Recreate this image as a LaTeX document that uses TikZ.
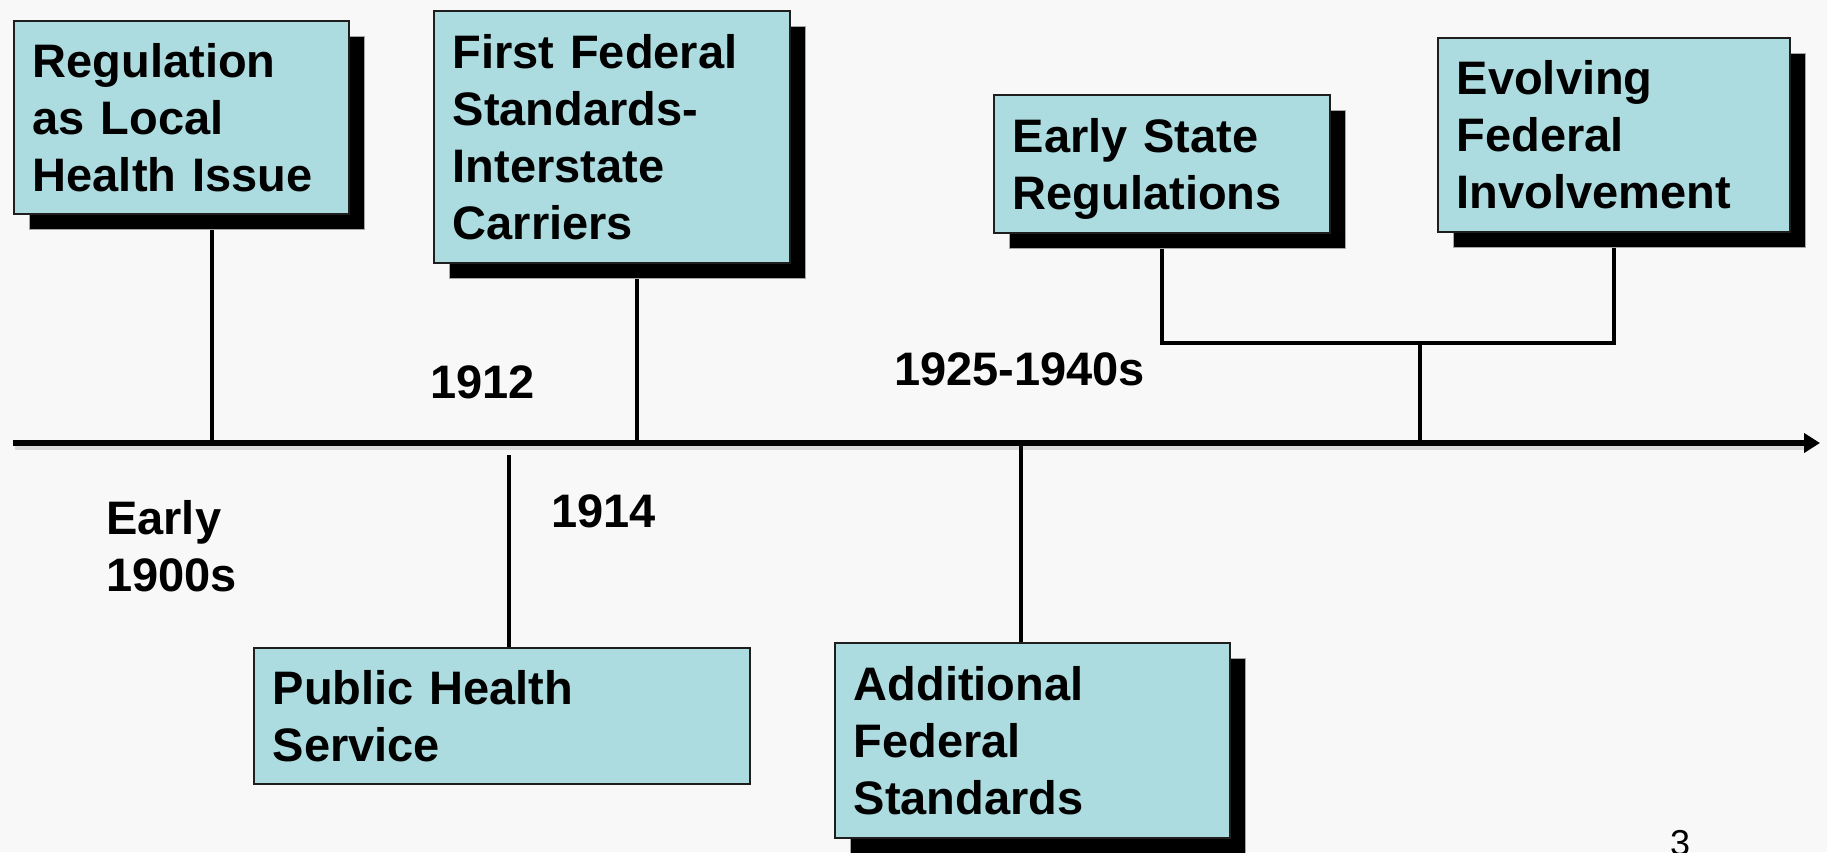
\documentclass[tikz,border=0pt]{standalone}
\usepackage{fontspec}
\setmainfont{Liberation Sans}
\usetikzlibrary{arrows.meta,shadows}
\definecolor{bgcol}{RGB}{248,248,248}
\definecolor{boxfill}{RGB}{172,220,224}
\definecolor{boxline}{RGB}{30,30,30}
\pgfdeclarelayer{back}
\pgfsetlayers{back,main}
\begin{document}
\begin{tikzpicture}[x=1pt,y=-1pt,
  bigtxt/.style={font=\fontsize{47}{57}\selectfont\bfseries},
  card/.style={draw=boxline, line width=1.5pt, fill=boxfill, anchor=north west,
    inner xsep=19pt, inner ysep=0pt, align=left, text height=34pt, bigtxt},
  lines2/.style={text depth=57pt},
  lines3/.style={text depth=114pt},
  lines4/.style={text depth=171pt},
  shade/.style={general shadow={fill=black, draw=gray!70, line width=1pt,
    shadow xshift=16pt, shadow yshift=-16pt}},
  link/.style={line width=3.5pt, black},
  lbl/.style={bigtxt, inner sep=0pt, anchor=base west}]

\useasboundingbox (0,0) rectangle (1827,852);

% boxes
\node[card, lines3, shade, minimum width=335pt, minimum height=193pt, text width=297pt] (b1) at (13,20) {Regulation\\as Local\\Health Issue};
\node[card, lines4, shade, minimum width=356pt, minimum height=252pt, text width=318pt] (b2) at (433,10) {First Federal\\Standards-\\Interstate\\Carriers};
\node[card, lines2, shade, minimum width=336pt, minimum height=138pt, text width=298pt] (b3) at (993,94) {Early State\\Regulations};
\node[card, lines3, shade, minimum width=352pt, minimum height=194pt, text width=314pt] (b4) at (1437,37) {Evolving\\Federal\\Involvement};
\node[card, lines2, minimum width=496pt, minimum height=136pt, text width=458pt] (b5) at (253,647) {Public Health\\Service};
\node[card, lines3, shade, minimum width=395pt, minimum height=195pt, text width=357pt] (b6) at (834,642) {Additional\\Federal\\Standards};

% labels
\node[bigtxt, inner sep=0pt, align=left, text depth=0pt, anchor=south west] (early) at (106,592) {Early\\1900s};
\node[lbl] (y1912) at (430,398) {1912};
\node[lbl] (y1914) at (551,527) {1914};
\node[lbl] (y1925) at (894,385) {1925-1940s};
\node[font=\fontsize{36}{40}\selectfont, inner sep=0pt, anchor=base west] (pg) at (1670,855) {3};

% coordinates
\coordinate (ts) at (13,443);
\coordinate (te) at (1820,443);
\coordinate (t1) at (212,443);
\coordinate (t2) at (637,443);
\coordinate (bar) at (1420,343);
\coordinate (t6) at (1021,443);
\coordinate (p5) at (509,455);

\begin{pgfonlayer}{back}
  \fill[bgcol] (0,0) rectangle (1827,852);
  \draw[line width=5pt, black!15] ([xshift=2pt,yshift=-4pt]ts) -- ([xshift=-14pt,yshift=-4pt]te);
  \draw[line width=5.5pt, -{Triangle[length=16pt,width=19pt]}] (ts) -- (te);
  \draw[link] (b1.south -| t1) -- (t1);
  \draw[link] (b2.south -| t2) -- (t2);
  \draw[link] (b3.south) |- (bar) -| (b4.south);
  \draw[link] (bar) -- (bar |- ts);
  \draw[link] (p5) -- (p5 |- b5.north);
  \draw[link] (t6) -- (t6 |- b6.north);
\end{pgfonlayer}
\end{tikzpicture}
\end{document}
